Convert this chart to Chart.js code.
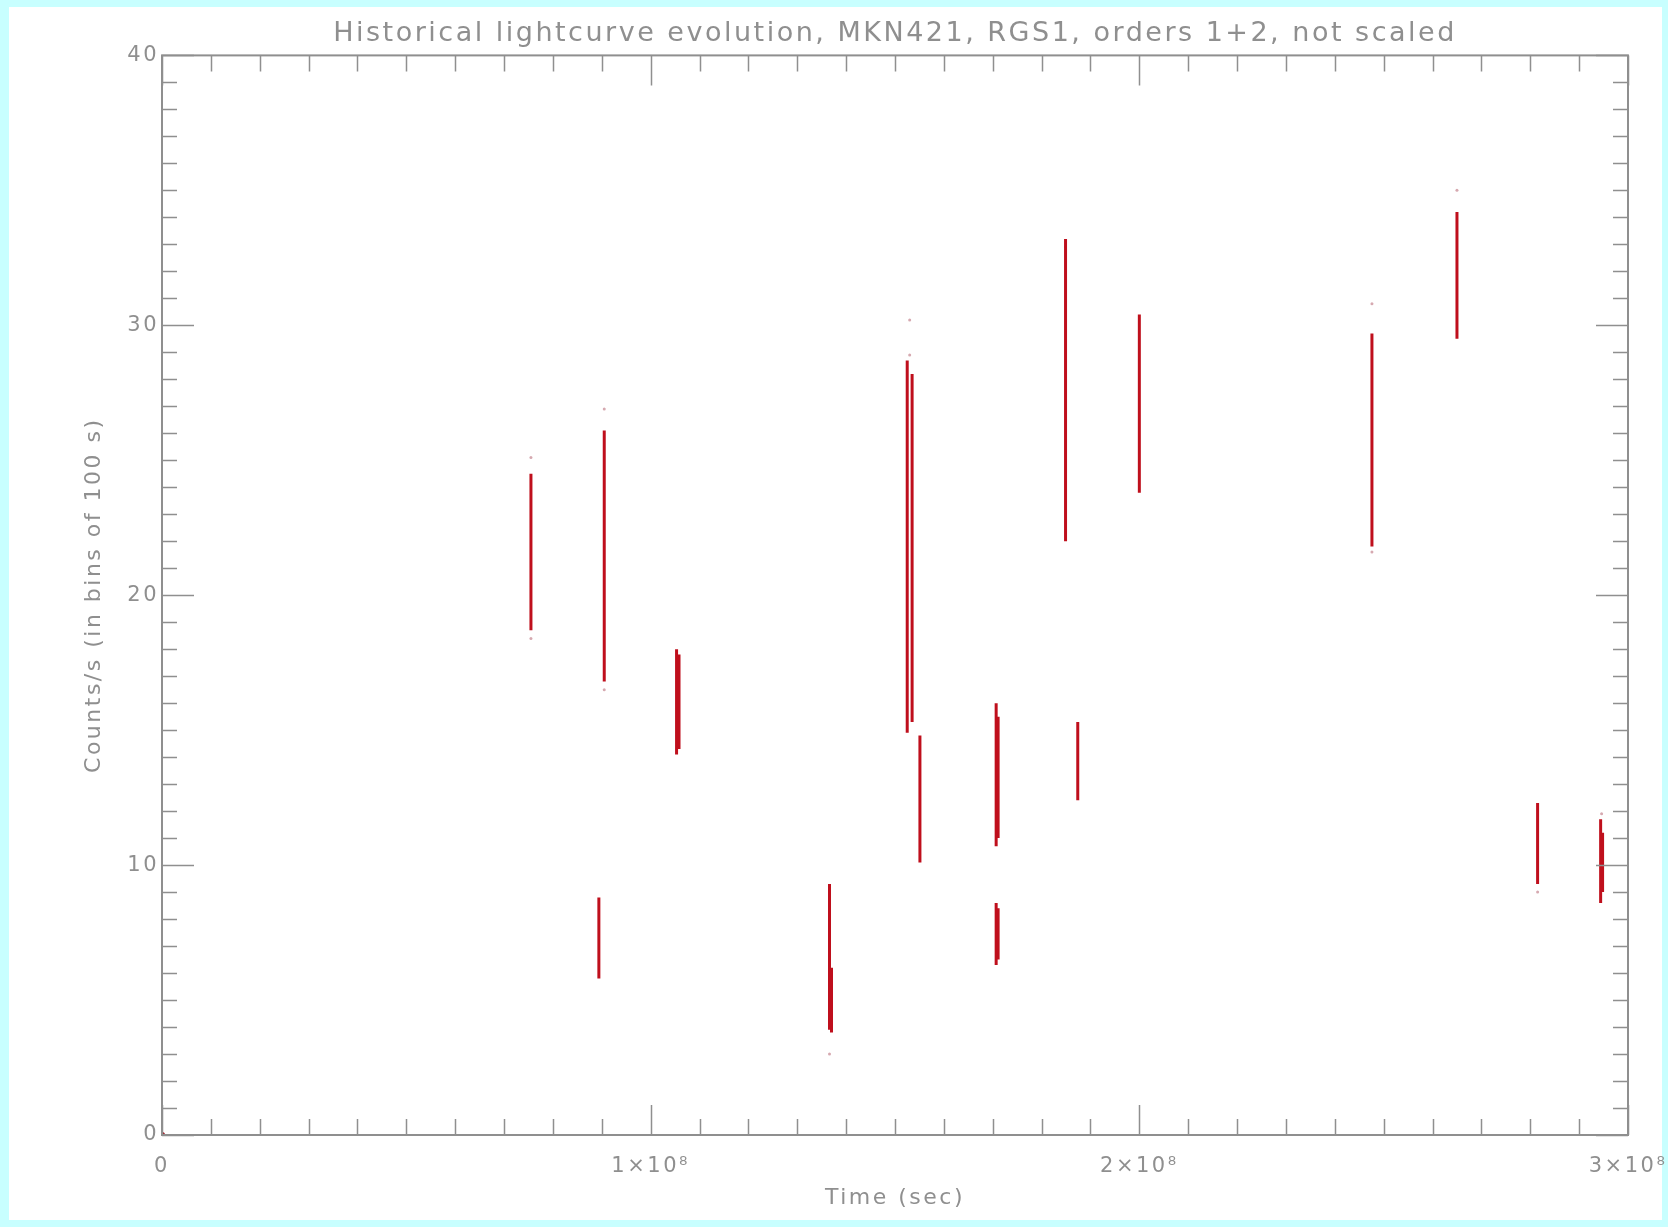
<!DOCTYPE html>
<html>
<head>
<meta charset="utf-8">
<title>Historical lightcurve evolution</title>
<script src="https://cdn.jsdelivr.net/npm/chart.js@4/dist/chart.umd.min.js"></script>
<style>
  html, body { margin: 0; padding: 0; background: #c8ffff; }
  #mychart { display: block; }
</style>
</head>
<body>
<canvas id="mychart" width="1668" height="1227"></canvas>
<script>
// each RGS1 exposure shows up as a vertical run of 100 s bins
const obsTime = [0.755e8, 0.894e8, 0.905e8, 1.053e8, 1.058e8, 1.366e8, 1.370e8, 1.525e8, 1.535e8, 1.551e8,
  1.707e8, 1.711e8, 1.707e8, 1.711e8, 1.849e8, 1.874e8, 2.0e8, 2.476e8, 2.65e8, 2.815e8, 2.944e8, 2.948e8];
const obsLow = [18.7, 5.8, 16.8, 14.1, 14.3, 3.9, 3.8, 14.9, 15.3, 10.1,
  10.7, 11.0, 6.3, 6.5, 22.0, 12.4, 23.8, 21.8, 29.5, 9.3, 8.6, 9.0];
const obsHigh = [24.5, 8.8, 26.1, 18.0, 17.8, 9.3, 6.2, 28.7, 28.2, 14.8,
  16.0, 15.5, 8.6, 8.4, 33.2, 15.3, 30.4, 29.7, 34.2, 12.3, 11.7, 11.2];

// stray bins off the ends of the runs
const strayTime = [0.755e8, 0.755e8, 0.905e8, 0.905e8, 1.366e8, 1.53e8, 1.53e8, 1.849e8, 2.476e8, 2.476e8, 2.65e8, 2.815e8, 2.946e8];
const strayCounts = [25.1, 18.4, 26.9, 16.5, 3.0, 30.2, 28.9, 32.9, 30.8, 21.6, 35.0, 9.0, 11.9];

const originTime = [0];
const originCounts = [0];

const xTicks = [0, 1e8, 2e8, 3e8];
const xTickLabels = ["0", "1×10⁸", "2×10⁸", "3×10⁸"];
const yTicks = [0, 10, 20, 30, 40];

const segs = [];
for (let i = 0; i < obsTime.length; i++) {
  segs.push({ x: obsTime[i], y: obsLow[i] });
  segs.push({ x: obsTime[i], y: obsHigh[i] });
  segs.push({ x: obsTime[i], y: null });
}
const strays = strayTime.map((t, i) => ({ x: t, y: strayCounts[i] }));
const origin = originTime.map((t, i) => ({ x: t, y: originCounts[i] }));

const grey = "#8f8f8f";

const framePlugin = {
  id: "frame",
  beforeDraw(chart) {
    const ctx = chart.ctx;
    ctx.fillStyle = "#c8ffff";
    ctx.fillRect(0, 0, chart.width, chart.height);
    ctx.fillStyle = "#ffffff";
    ctx.fillRect(9, 7, 1653, 1213);
    // the IDL vector font is wide, spread the letters out a bit
    ctx.letterSpacing = "2.5px";
  },
  afterDraw(chart) {
    const ctx = chart.ctx;
    const a = chart.chartArea;
    const xs = chart.scales.x;
    const ys = chart.scales.y;
    ctx.save();
    ctx.strokeStyle = grey;
    ctx.lineWidth = 2;
    ctx.strokeRect(a.left, a.top, a.right - a.left, a.bottom - a.top);
    ctx.lineWidth = 1.5;
    ctx.beginPath();
    // inward ticks on all four sides, like IDL plots
    for (let v = xs.min; v <= xs.max + 1; v += 1e7) {
      const px = Math.round(xs.getPixelForValue(v)) + 0.5;
      const len = xTicks.includes(Math.round(v / 1e7) * 1e7) ? 30 : 16;
      ctx.moveTo(px, a.bottom);
      ctx.lineTo(px, a.bottom - len);
      ctx.moveTo(px, a.top);
      ctx.lineTo(px, a.top + len);
    }
    for (let v = ys.min; v <= ys.max; v += 1) {
      const py = Math.round(ys.getPixelForValue(v)) + 0.5;
      const len = yTicks.includes(v) ? 32 : 15;
      ctx.moveTo(a.left, py);
      ctx.lineTo(a.left + len, py);
      ctx.moveTo(a.right, py);
      ctx.lineTo(a.right - len, py);
    }
    ctx.stroke();
    ctx.restore();
    ctx.letterSpacing = "0px";
  },
};

const config = {
  type: "scatter",
  data: {
    datasets: [
      {
        label: "runs",
        data: segs,
        showLine: true,
        spanGaps: false,
        borderColor: "#bf0f1c",
        borderWidth: 3,
        pointRadius: 0,
      },
      {
        label: "stray",
        data: strays,
        pointRadius: 1.5,
        pointBackgroundColor: "#d6a9b0",
        pointBorderWidth: 0,
      },
      {
        label: "origin",
        data: origin,
        pointRadius: 3,
        pointBackgroundColor: "#a0101c",
        pointBorderWidth: 0,
      },
    ],
  },
  options: {
    responsive: false,
    animation: false,
    layout: { padding: { left: 0, right: 40, top: 0, bottom: 0 } },
    plugins: {
      legend: { display: false },
      tooltip: { enabled: false },
      title: {
        display: true,
        fullSize: false,
        text: "Historical lightcurve evolution, MKN421, RGS1, orders 1+2, not scaled",
        color: grey,
        font: { family: "DejaVu Sans", size: 27, weight: "normal" },
        padding: { top: 18, bottom: 5 },
      },
    },
    scales: {
      x: {
        type: "linear",
        min: 0,
        max: 3e8,
        grid: { display: false, drawTicks: false },
        border: { display: false },
        afterBuildTicks: (scale) => {
          scale.ticks = xTicks.map((v) => ({ value: v }));
        },
        afterFit: (scale) => {
          scale.height = 92;
          scale.paddingLeft = 0;
          scale.paddingRight = 0;
        },
        ticks: {
          autoSkip: false,
          maxRotation: 0,
          padding: 19,
          color: grey,
          font: { family: "DejaVu Sans", size: 21 },
          callback: (v) => xTickLabels[xTicks.indexOf(v)],
        },
        title: {
          display: true,
          text: "Time (sec)",
          color: grey,
          font: { family: "DejaVu Sans", size: 22 },
          padding: { top: 0, bottom: 16 },
        },
      },
      y: {
        type: "linear",
        min: 0,
        max: 40,
        grid: { display: false, drawTicks: false },
        border: { display: false },
        afterBuildTicks: (scale) => {
          scale.ticks = yTicks.map((v) => ({ value: v }));
        },
        afterFit: (scale) => {
          scale.width = 162;
          scale.paddingTop = 0;
          scale.paddingBottom = 0;
        },
        ticks: {
          padding: 3,
          color: grey,
          font: { family: "DejaVu Sans", size: 21 },
        },
        title: {
          display: true,
          text: "Counts/s (in bins of 100 s)",
          color: grey,
          font: { family: "DejaVu Sans", size: 22 },
          padding: { top: 81, bottom: 0 },
        },
      },
    },
  },
  plugins: [framePlugin],
};

const mychart = new Chart(document.getElementById("mychart"), config);
</script>
</body>
</html>
